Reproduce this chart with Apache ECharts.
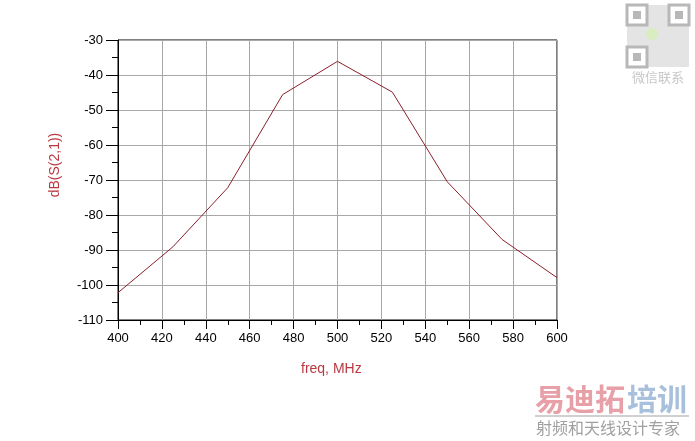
<!DOCTYPE html>
<html>
<head>
<meta charset="utf-8">
<script src="https://cdn.jsdelivr.net/npm/echarts@6/dist/echarts.min.js"></script>
<style>html,body{margin:0;padding:0;background:#fff}#c{width:695px;height:441px}</style>
</head>
<body>
<div id="c"></div>
<script>
var freq = [400, 425, 450, 475, 500, 525, 550, 575, 600];
var dbS21 = [-102.2, -89.1, -72.2, -45.6, -36.1, -44.9, -70.5, -87.0, -97.9];
var xTicks = [400, 420, 440, 460, 480, 500, 520, 540, 560, 580, 600];
var yTicks = [-110, -100, -90, -80, -70, -60, -50, -40, -30];
var xName = 'freq, MHz';
var yName = 'dB(S(2,1))';

var chart = echarts.init(document.getElementById('c'), null, {renderer: 'canvas'});
var qr = [];
// faint QR-code-like watermark block
qr.push({type: 'rect', shape: {x: 627, y: 5, width: 62, height: 62}, style: {fill: '#e4e4e4'}, silent: true});
[[627, 5], [669, 5], [627, 47]].forEach(function (p) {
  qr.push({type: 'rect', shape: {x: p[0], y: p[1], width: 20, height: 20}, style: {fill: '#fff', stroke: '#b8b8b8', lineWidth: 3}, silent: true});
  qr.push({type: 'rect', shape: {x: p[0] + 6, y: p[1] + 6, width: 8, height: 8}, style: {fill: '#b8b8b8'}, silent: true});
});
qr.push({type: 'circle', shape: {cx: 652, cy: 34, r: 6}, style: {fill: '#d8ecc0'}, silent: true});

chart.setOption({
  animation: false,
  grid: {left: 118, right: 138, top: 40, bottom: 121, show: true, borderColor: '#000', borderWidth: 1, backgroundColor: 'transparent'},
  xAxis: {
    type: 'value', min: xTicks[0], max: xTicks[xTicks.length - 1], interval: 20,
    axisLine: {show: true, onZero: false, lineStyle: {color: '#000', width: 1}},
    axisTick: {show: true, inside: false, length: 9, lineStyle: {color: '#000'}},
    minorTick: {show: true, splitNumber: 2, length: 5, lineStyle: {color: '#000'}},
    axisLabel: {color: '#000', fontFamily: 'Arial', fontSize: 13, margin: 12},
    splitLine: {show: true, lineStyle: {color: '#a8a8a8', width: 1}}
  },
  yAxis: {
    type: 'value', min: yTicks[0], max: yTicks[yTicks.length - 1], interval: 10,
    axisLine: {show: true, onZero: false, lineStyle: {color: '#000', width: 1}},
    axisTick: {show: true, inside: false, length: 12, lineStyle: {color: '#000'}},
    minorTick: {show: true, splitNumber: 2, length: 6, lineStyle: {color: '#000'}},
    axisLabel: {color: '#000', fontFamily: 'Arial', fontSize: 13, margin: 15},
    splitLine: {show: true, lineStyle: {color: '#a8a8a8', width: 1}}
  },
  graphic: qr.concat([
    {type: 'text', left: 301, top: 362, style: {text: xName, fill: '#b83a40', font: '14px Arial'}, silent: true},
    {type: 'text', x: 55, y: 165, rotation: Math.PI / 2, style: {text: yName, fill: '#b83a40', font: '14px Arial', align: 'center', verticalAlign: 'middle'}, silent: true},
    {type: 'text', x: 658, y: 77, style: {text: '微信联系', fill: '#c8c8c8', font: '13px "Noto Sans CJK SC"', align: 'center', verticalAlign: 'middle'}, silent: true},
    {type: 'text', x: 535, y: 384, style: {text: '易迪拓', fill: '#e8a0a8', font: 'bold 30px "Noto Sans CJK SC"'}, silent: true},
    {type: 'text', x: 627, y: 384, style: {text: '培训', fill: '#a8c0dc', font: 'bold 30px "Noto Sans CJK SC"'}, silent: true},
    {type: 'rect', shape: {x: 535, y: 415, width: 154, height: 2}, style: {fill: '#d0d0d0'}, silent: true},
    {type: 'text', x: 536, y: 420, style: {text: '射频和天线设计专家', fill: '#a0a0a0', font: '16px "Noto Sans CJK SC"'}, silent: true}
  ]),
  series: [{
    type: 'line',
    data: freq.map(function (f, i) { return [f, dbS21[i]]; }),
    showSymbol: false,
    symbol: 'none',
    lineStyle: {color: '#8a1e2a', width: 1},
    silent: true
  }]
});
</script>
</body>
</html>
